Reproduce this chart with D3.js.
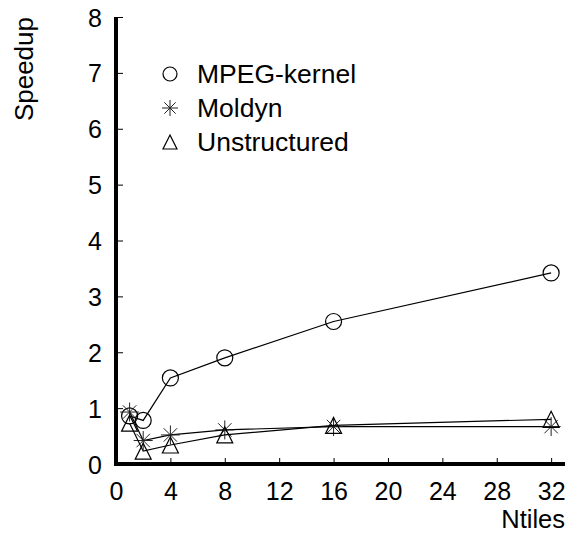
<!DOCTYPE html>
<html>
<head>
<meta charset="utf-8">
<script src="https://cdn.jsdelivr.net/npm/d3@7"></script>
<style>
  body { margin: 0; background: #fff; }
  text { font-family: Arial, "Liberation Sans", sans-serif; fill: #000; }
</style>
</head>
<body>
<script>
// data
const ntiles = [1, 2, 4, 8, 16, 32]
const mpegKernel = [0.86, 0.78, 1.54, 1.90, 2.55, 3.42]
const moldyn = [0.93, 0.42, 0.52, 0.61, 0.67, 0.67]
const unstructured = [0.73, 0.23, 0.34, 0.52, 0.69, 0.80]
const xTicks = [0, 4, 8, 12, 16, 20, 24, 28, 32]
const yTicks = [0, 1, 2, 3, 4, 5, 6, 7, 8]

const series = [
  {name: 'MPEG-kernel', values: mpegKernel, marker: 'circle'},
  {name: 'Moldyn', values: moldyn, marker: 'star'},
  {name: 'Unstructured', values: unstructured, marker: 'triangle'}
]

const width = 565
const height = 533

const x = d3.scaleLinear().domain([0, 33.02]).range([116, 565])
const y = d3.scaleLinear().domain([0, 8]).range([464, 17])

const svg = d3.select('body').append('svg')
    .attr('width', width)
    .attr('height', height)

// axes
const xAxis = svg.append('g')
    .attr('transform', `translate(0, ${y(0)})`)
    .call(d3.axisBottom(x).tickValues(xTicks).tickSizeInner(-6).tickSizeOuter(0).tickPadding(18))

const yAxis = svg.append('g')
    .attr('transform', `translate(${x(0)}, 0)`)
    .call(d3.axisLeft(y).tickValues(yTicks).tickSizeInner(-7).tickSizeOuter(0).tickPadding(14))

for (const ax of [xAxis, yAxis]) {
  ax.select('.domain').remove()
  ax.selectAll('.tick line').attr('stroke', '#000').attr('stroke-width', 1)
  ax.selectAll('.tick text')
    .style('font-size', '25px')
    .style('font-family', 'Arial, "Liberation Sans", sans-serif')
}
yAxis.selectAll('.tick text').attr('dy', '0.36em')

// thick axis lines
svg.append('line')
    .attr('x1', x(0)).attr('x2', x(0))
    .attr('y1', y(8)).attr('y2', y(0) + 2)
    .attr('stroke', '#000').attr('stroke-width', 4)
svg.append('line')
    .attr('x1', x(0) - 2).attr('x2', width)
    .attr('y1', y(0)).attr('y2', y(0))
    .attr('stroke', '#000').attr('stroke-width', 4)

svg.append('text')
    .attr('x', 565)
    .attr('y', 528)
    .attr('text-anchor', 'end')
    .style('font-size', '25.5px')
    .text('Ntiles')

svg.append('text')
    .attr('transform', 'translate(33, 17) rotate(-90)')
    .attr('text-anchor', 'end')
    .style('font-size', '26px')
    .text('Speedup')

// markers
function drawMarker(sel, type, r) {
  if (type === 'circle') {
    sel.append('circle').attr('r', r)
      .attr('fill', 'none').attr('stroke', '#000').attr('stroke-width', 1.2)
  } else if (type === 'triangle') {
    sel.append('path')
      .attr('d', `M0,${-r}L${r},${r}L${-r},${r}Z`)
      .attr('fill', 'none').attr('stroke', '#000').attr('stroke-width', 1.2)
  } else {
    const d = r * Math.SQRT1_2
    sel.append('path')
      .attr('d', `M0,${-r}V${r}M${-r},0H${r}M${-d},${-d}L${d},${d}M${-d},${d}L${d},${-d}`)
      .attr('fill', 'none').attr('stroke', '#222').attr('stroke-width', 1)
  }
}

const line = d3.line()
  .x((d) => x(d[0]))
  .y((d) => y(d[1]))

series.forEach((s) => {
  const pts = ntiles.map((n, i) => [n, s.values[i]])
  svg.append('path')
    .datum(pts)
    .attr('d', line)
    .attr('fill', 'none')
    .attr('stroke', '#000')
    .attr('stroke-width', 1.2)
  pts.forEach((p) => {
    const g = svg.append('g').attr('transform', `translate(${x(p[0])}, ${y(p[1])})`)
    drawMarker(g, s.marker, s.marker === 'star' ? 9.5 : 8)
  })
})

// legend
const legend = svg.append('g').attr('transform', 'translate(170, 74)')
series.forEach((s, i) => {
  const row = legend.append('g').attr('transform', `translate(0, ${i * 34})`)
  drawMarker(row, s.marker, s.marker === 'star' ? 8 : 7)
  row.append('text')
    .attr('x', 27)
    .attr('y', 9)
    .style('font-size', '26.5px')
    .text(s.name)
})
</script>
</body>
</html>
